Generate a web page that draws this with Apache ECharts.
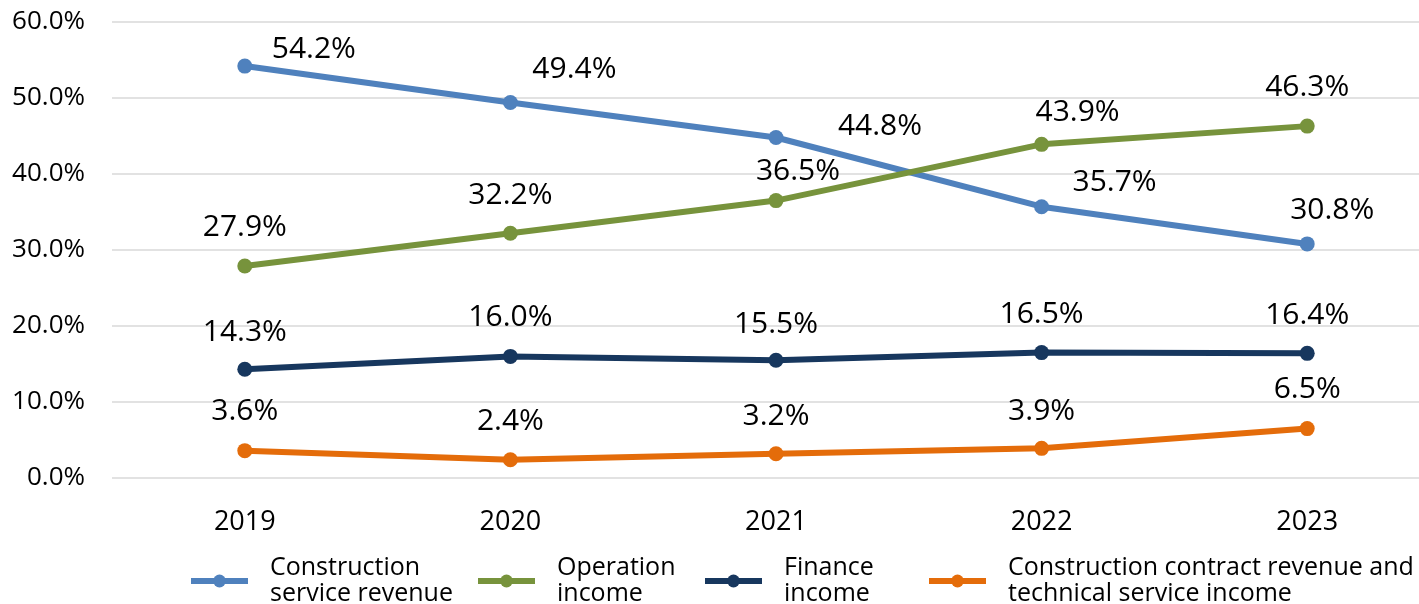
<!DOCTYPE html>
<html>
<head>
<meta charset="utf-8">
<script src="https://cdn.jsdelivr.net/npm/echarts@6/dist/echarts.min.js"></script>
<style>
  html, body { margin: 0; padding: 0; background: #fff; }
  #main { width: 1419px; height: 604px; }
</style>
</head>
<body>
<div id="main"></div>
<script>
var years = ['2019', '2020', '2021', '2022', '2023'];
var constructionService = [54.2, 49.4, 44.8, 35.7, 30.8];
var operationIncome = [27.9, 32.2, 36.5, 43.9, 46.3];
var financeIncome = [14.3, 16.0, 15.5, 16.5, 16.4];
var contractTechnical = [3.6, 2.4, 3.2, 3.9, 6.5];
var seriesNames = [
    'Construction\nservice revenue',
    'Operation\nincome',
    'Finance\nincome',
    'Construction contract revenue and\ntechnical service income'
];

// label offsets (px) from each point, like the original placement
var labelShift = [
    [[69, -17], [64, -33], [104, -11], [73, -24], [25, -33]],
    [[0, -39], [0, -38], [22, -29], [36, -32], [0, -39]],
    [[0, -37], [0, -39], [0, -36], [0, -38], [0, -38]],
    [[0, -39], [0, -38], [0, -37], [0, -37], [0, -39]]
];
var colors = ['#4f81bd', '#77933c', '#17375e', '#e46c0a'];
var font = '"Open Sans", "Noto Sans", sans-serif';

function buildData(values, shifts) {
    return values.map(function (v, i) {
        return { value: v, label: { offset: shifts[i] } };
    });
}

function makeSeries(name, values, idx) {
    return {
        name: name,
        type: 'line',
        data: buildData(values, labelShift[idx]),
        symbol: 'circle',
        symbolSize: 15,
        lineStyle: { width: 6, color: colors[idx] },
        itemStyle: { color: colors[idx] },
        label: {
            show: true,
            position: 'inside',
            fontFamily: font,
            fontSize: 30,
            color: '#000',
            formatter: function (p) { return p.value.toFixed(1) + '%'; }
        },
        emphasis: { disabled: true }
    };
}

var legendLefts = [183, 470, 697, 921];

var myChart = echarts.init(document.getElementById('main'));
var option = {
    animation: false,
    color: colors,
    grid: {
        left: 112,
        width: 1328,
        top: 22,
        bottom: 126,
        outerBoundsMode: 'none'
    },
    legend: seriesNames.map(function (n, i) {
        return {
            data: [n],
            left: legendLefts[i],
            top: 550,
            itemWidth: 57,
            itemHeight: 16,
            itemGap: 0,
            lineStyle: { width: 6 },
            textStyle: {
                fontFamily: font,
                fontSize: 25,
                lineHeight: 26,
                color: '#000',
                padding: [0, 0, 0, 17]
            }
        };
    }),
    xAxis: {
        type: 'category',
        boundaryGap: true,
        data: years,
        axisLine: { show: false },
        axisTick: { show: false },
        axisLabel: {
            margin: 31,
            fontFamily: font,
            fontSize: 27,
            color: '#000'
        }
    },
    yAxis: {
        type: 'value',
        min: 0,
        max: 60,
        interval: 10,
        axisLine: { show: false },
        axisTick: { show: false },
        splitLine: { lineStyle: { color: '#d9d9d9', width: 1.5 } },
        axisLabel: {
            margin: 27,
            fontFamily: font,
            fontSize: 26,
            color: '#000',
            formatter: function (v) { return v.toFixed(1) + '%'; }
        }
    },
    series: [
        makeSeries(seriesNames[0], constructionService, 0),
        makeSeries(seriesNames[1], operationIncome, 1),
        makeSeries(seriesNames[2], financeIncome, 2),
        makeSeries(seriesNames[3], contractTechnical, 3)
    ]
};
myChart.setOption(option);
</script>
</body>
</html>
